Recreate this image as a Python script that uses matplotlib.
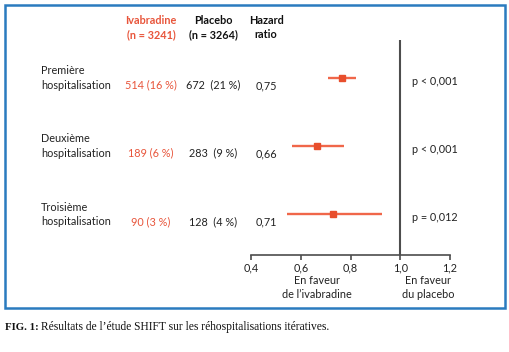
import matplotlib
matplotlib.use("Agg")
import matplotlib.pyplot as plt
from matplotlib.patches import Rectangle
from matplotlib.transforms import blended_transform_factory

# ---- data ----
rows = ["Première\nhospitalisation", "Deuxième\nhospitalisation", "Troisième\nhospitalisation"]
ivabradine = ["514 (16 %)", "189 (6 %)", "90 (3 %)"]
placebo = ["672  (21 %)", "283  (9 %)", "128  (4 %)"]
hr_text = ["0,75", "0,66", "0,71"]
hr_point = [0.766, 0.665, 0.728]
ci_low = [0.711, 0.565, 0.543]
ci_high = [0.823, 0.773, 0.927]
p_values = ["p < 0,001", "p < 0,001", "p = 0,012"]
xticks = [0.4, 0.6, 0.8, 1.0, 1.2]
xtick_labels = ["0,4", "0,6", "0,8", "1,0", "1,2"]

RED = "#e8553b"
LINE_RED = "#f0674a"
DARK = "#4d4d4d"
FONT = "Lato"
FS = 7.8
LS = 1.38

W, H = 510, 352
fig = plt.figure(figsize=(W / 100, H / 100), dpi=100)
fig.patch.set_facecolor("white")

def fx(px):
    return px / W

def fy(py):
    return 1 - py / H

# border box
fig.patches.append(Rectangle((fx(5), fy(308)), fx(505) - fx(5), fy(5) - fy(308),
                             transform=fig.transFigure, fill=False,
                             edgecolor="#2a7bbf", linewidth=1.8))

ax = fig.add_axes([fx(251), fy(255), fx(450) - fx(251), fy(40) - fy(255)])
ax.set_xlim(0.4, 1.2)
ax.set_ylim(0.403, 3.558)
ypos = [3, 2, 1]

for y, p, lo, hi in zip(ypos, hr_point, ci_low, ci_high):
    ax.plot([lo, hi], [y, y], color=LINE_RED, lw=1.7, solid_capstyle="butt", zorder=2)
    ax.plot([p], [y], marker="s", ms=4.3, color="#e84e2c", zorder=3)

ax.axvline(1.0, color=DARK, lw=1.5, zorder=1)

for s in ["top", "right", "left"]:
    ax.spines[s].set_visible(False)
ax.spines["bottom"].set_color(DARK)
ax.spines["bottom"].set_linewidth(1.2)
ax.set_yticks([])
ax.set_xticks(xticks)
ax.set_xticklabels(xtick_labels, fontfamily=FONT, fontsize=FS, color="#222222")
ax.tick_params(axis="x", direction="out", length=3.5, width=1.2, color=DARK, pad=1.5)
ax.set_facecolor("none")

tr = blended_transform_factory(fig.transFigure, ax.transData)
dy = 1 / 68.15  # data units per pixel

for y, lab, iv, pl, hr, pv in zip(ypos, rows, ivabradine, placebo, hr_text, p_values):
    fig.text(fx(41), y, lab, transform=tr, ha="left", va="center",
             fontfamily=FONT, fontsize=FS, color="#222222", linespacing=LS)
    fig.text(fx(151), y - 7 * dy, iv, transform=tr, ha="center", va="center",
             fontfamily=FONT, fontsize=FS, color=RED)
    fig.text(fx(213), y - 7 * dy, pl, transform=tr, ha="center", va="center",
             fontfamily=FONT, fontsize=FS, color="#222222")
    fig.text(fx(266), y - 8 * dy, hr, transform=tr, ha="center", va="center",
             fontfamily=FONT, fontsize=FS, color="#222222")
    fig.text(fx(412), y - 3 * dy, pv, transform=tr, ha="left", va="center",
             fontfamily=FONT, fontsize=FS, color="#222222")

# headers
fig.text(fx(151), fy(27.5), "Ivabradine\n(n = 3241)", ha="center", va="center",
         fontfamily=FONT, fontsize=FS, fontweight="bold", color=RED, linespacing=LS)
fig.text(fx(213), fy(27.5), "Placebo\n(n = 3264)", ha="center", va="center",
         fontfamily=FONT, fontsize=FS, fontweight="bold", color="#111111", linespacing=LS)
fig.text(fx(266), fy(27.5), "Hazard\nratio", ha="center", va="center",
         fontfamily=FONT, fontsize=FS, fontweight="bold", color="#111111", linespacing=LS)

# favour labels
fig.text(fx(317), fy(287.5), "En faveur\nde l\u2019ivabradine", ha="center", va="center",
         fontfamily=FONT, fontsize=FS, color="#222222", linespacing=LS)
fig.text(fx(428), fy(287.5), "En faveur\ndu placebo", ha="center", va="center",
         fontfamily=FONT, fontsize=FS, color="#222222", linespacing=LS)

# caption
fig.text(fx(5), fy(327), "FIG. 1:", ha="left", va="center", fontfamily="Liberation Serif",
         fontsize=7.8, fontweight="bold", color="#111111")
fig.text(fx(41), fy(327), "Résultats de l\u2019étude SHIFT sur les réhospitalisations itératives.",
         ha="left", va="center", fontfamily="Liberation Serif", fontsize=8.3, color="#111111")

fig.savefig("out.png", dpi=100, facecolor="white")
